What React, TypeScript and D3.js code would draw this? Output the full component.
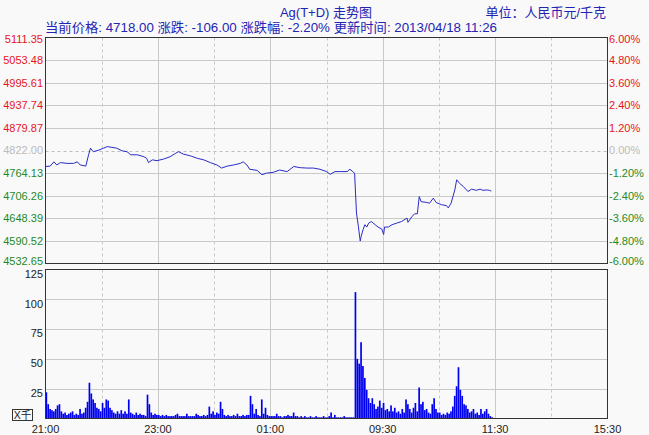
import React from 'react';
import * as d3 from 'd3';

const W = 649;
const H = 435;

// ---- data ----
const title = 'Ag(T+D) 走势图';
const unitText = '单位：人民币元/千克';
const infoText = '当前价格: 4718.00 涨跌: -106.00 涨跌幅: -2.20% 更新时间: 2013/04/18 11:26';

const preClose = 4822.0;
const priceTicks = [5111.35, 5053.48, 4995.61, 4937.74, 4879.87, 4822.0, 4764.13, 4706.26, 4648.39, 4590.52, 4532.65];
const pctTickLabels = ['6.00%', '4.80%', '3.60%', '2.40%', '1.20%', '0.00%', '-1.20%', '-2.40%', '-3.60%', '-4.80%', '-6.00%'];
const volTicks = [125, 100, 75, 50, 25];
const volUnitLabel = 'X千';

// trading minutes since 21:00 (night 21:00-02:30, day 09:00-11:30, 13:30-15:30)
const totalMinutes = 600;
const timeLabels = ['21:00', '23:00', '01:00', '09:30', '11:30', '15:30'];
const timeLabelMinutes = [0, 120, 240, 360, 480, 600];
const hourGridMinutes = [60, 120, 180, 240, 300, 360, 420, 480, 540];

const priceMinutes = [0, 5, 9, 12, 16, 23, 30, 34, 37, 43, 46, 48, 51, 57, 62, 66, 71, 76, 82, 87, 91, 98, 105, 108, 110, 114, 119, 126, 133, 139, 142, 147, 155, 162, 169, 176, 183, 188, 194, 201, 208, 211, 215, 218, 226, 231, 236, 243, 250, 258, 265, 272, 279, 286, 293, 300, 304, 309, 314, 322, 325, 328, 330, 332, 334, 336, 337, 339, 341, 343, 345, 348, 352, 355, 359, 361, 362, 366, 370, 375, 380, 386, 387, 391, 394, 397, 399, 401, 407, 410, 414, 417, 423, 428, 430, 433, 437, 439, 442, 446, 451, 455, 460, 464, 467, 471, 474, 476];
const priceValues = [4781, 4782, 4793, 4785, 4791, 4789, 4789, 4793, 4785, 4782, 4811, 4828, 4819, 4823, 4828, 4832, 4830, 4828, 4821, 4819, 4811, 4811, 4806, 4802, 4791, 4798, 4796, 4800, 4806, 4815, 4819, 4813, 4808, 4802, 4798, 4791, 4785, 4777, 4782, 4785, 4789, 4793, 4785, 4774, 4771, 4760, 4764, 4766, 4772, 4768, 4781, 4778, 4777, 4777, 4774, 4768, 4761, 4768, 4768, 4768, 4774, 4768, 4764, 4662, 4628, 4590, 4602, 4619, 4632, 4626, 4636, 4640, 4632, 4626, 4621, 4607, 4626, 4626, 4632, 4636, 4640, 4649, 4638, 4652, 4660, 4660, 4704, 4691, 4689, 4687, 4700, 4689, 4683, 4681, 4675, 4687, 4721, 4747, 4738, 4730, 4717, 4723, 4720, 4723, 4720, 4721, 4720, 4718];

// volume (thousands), 2-minute buckets from 21:00
const volumeBucketMinutes = 2;
const volumeValues = [
  22, 12, 8, 7, 6, 8, 11, 12, 6, 4,
  5, 3, 4, 5, 6, 3, 4, 3, 8, 4,
  5, 9, 14, 30, 21, 16, 13, 9, 8, 6,
  13, 9, 16, 15, 9, 7, 5, 4, 6, 4,
  7, 4, 6, 4, 16, 5, 4, 3, 5, 3,
  4, 3, 3, 2, 20, 12, 5, 3, 4, 3,
  3, 2, 3, 2, 3, 2, 2, 2, 2, 3,
  4, 2, 2, 2, 2, 4, 2, 2, 2, 2,
  4, 3, 2, 2, 3, 2, 3, 10, 4, 6,
  3, 5, 4, 14, 8, 3, 2, 3, 2, 2,
  3, 2, 4, 2, 2, 3, 2, 3, 3, 19,
  12, 4, 8, 3, 2, 16, 4, 9, 3, 2,
  2, 2, 2, 4, 2, 2, 1, 2, 2, 3,
  2, 2, 5, 2, 2, 1, 2, 1, 2, 1,
  1, 2, 1, 1, 2, 1, 1, 1, 2, 1,
  1, 2, 5, 1, 3, 1, 1, 1, 1, 2,
  1, 1, 1, 1, 1,
  106, 50, 46, 64, 44, 34, 24, 17, 13, 17,
  12, 8, 10, 15, 9, 13, 7, 8, 6, 11,
  6, 9, 5, 6, 4, 8, 5, 16, 12, 8,
  5, 9, 13, 6, 26, 12, 14, 7, 8, 5,
  4, 12, 17, 8, 5, 5, 3, 4, 3, 5,
  4, 6, 10, 19, 27, 43, 24, 19, 12, 11,
  8, 5, 6, 8, 4, 5, 3, 8, 4, 6,
  8, 4, 2, 1,
];

// ---- layout ----
const left = 45.5;
const right = 607.5;
const priceTop = 37.5;
const priceBottom = 263.5;
const volTop = 269.5;
const volBottom = 418.5;

const FONT = "'Liberation Sans', Arial, 'Noto Sans CJK SC', sans-serif";
const RED = '#e8141c';
const GREEN = '#1f8a1f';
const ZERO = '#bbbbbb';
const BLUE_TEXT = '#2424b4';
const GRID = '#c9c9c9';

export default function App() {
  const x = d3.scaleLinear().domain([0, totalMinutes]).range([left, right]);
  const yP = d3.scaleLinear().domain([priceTicks[priceTicks.length - 1], priceTicks[0]]).range([priceBottom, priceTop]);
  const yV = d3.scaleLinear().domain([0, 125]).range([volBottom, volTop]);

  const pts = priceMinutes.map((m, i) => [m, priceValues[i]] as [number, number]);
  const line = d3.line<[number, number]>().x((d) => x(d[0])).y((d) => yP(d[1]))(pts) || '';

  const bw = x(volumeBucketMinutes) - x(0);

  const colorFor = (i: number) => (i < 5 ? RED : i === 5 ? ZERO : GREEN);
  // labels sit slightly inside the panel at the top/bottom edges
  const labelShift = (i: number) => (i === 0 ? 1.5 : i === priceTicks.length - 1 ? -2.5 : 0);

  return (
    <svg width={W} height={H} style={{ position: 'absolute', left: 0, top: 0, background: '#f9f9f9' }} fontFamily={FONT}>
      <rect x={0} y={0} width={W} height={H} fill="#f9f9f9" />
      {/* header */}
      <text x={326} y={17} textAnchor="middle" fontSize={13} fill={BLUE_TEXT}>{title}</text>
      <text x={606} y={17} textAnchor="end" fontSize={13} fill={BLUE_TEXT}>{unitText}</text>
      <text x={45} y={32} fontSize={13} fill={BLUE_TEXT} textLength={452} lengthAdjust="spacingAndGlyphs">{infoText}</text>

      {/* price panel grid */}
      {priceTicks.map((p, i) =>
        i > 0 && i < priceTicks.length - 1 ? (
          <line key={'hp' + i} x1={left} x2={right} y1={Math.round(yP(p)) + 0.5} y2={Math.round(yP(p)) + 0.5}
            stroke={i === 5 ? '#bdbdbd' : GRID} strokeDasharray={i === 5 ? '3,3' : undefined} />
        ) : null
      )}
      {hourGridMinutes.map((m) => (
        <line key={'vp' + m} x1={Math.round(x(m)) + 0.5} x2={Math.round(x(m)) + 0.5} y1={priceTop} y2={priceBottom}
          stroke={GRID} strokeDasharray={m % 120 === 0 ? undefined : '3,3'} />
      ))}
      <path d={line} fill="none" stroke="#2b2bc8" strokeWidth={1} />
      <rect x={left} y={priceTop} width={right - left} height={priceBottom - priceTop} fill="none" stroke="#333" />

      {priceTicks.map((p, i) => (
        <text key={'lp' + i} x={43} y={yP(p) + labelShift(i)} dy="0.35em" textAnchor="end" fontSize={11} fill={colorFor(i)}>
          {p.toFixed(2)}
        </text>
      ))}
      {pctTickLabels.map((t, i) => (
        <text key={'rp' + i} x={609} y={yP(priceTicks[i]) + labelShift(i)} dy="0.35em" fontSize={11} fill={colorFor(i)}>
          {t}
        </text>
      ))}

      {/* volume panel grid */}
      {volTicks.slice(1).map((v) => (
        <line key={'hv' + v} x1={left} x2={right} y1={Math.round(yV(v)) + 0.5} y2={Math.round(yV(v)) + 0.5} stroke={GRID} />
      ))}
      {hourGridMinutes.map((m) => (
        <line key={'vv' + m} x1={Math.round(x(m)) + 0.5} x2={Math.round(x(m)) + 0.5} y1={volTop} y2={volBottom}
          stroke={GRID} strokeDasharray={m % 120 === 0 ? undefined : '3,3'} />
      ))}
      {volumeValues.map((v, i) => (
        <rect key={'b' + i} x={x(i * volumeBucketMinutes)} y={yV(v)} width={bw * 0.9} height={volBottom - yV(v)} fill="#0000f0" />
      ))}
      <rect x={left} y={volTop} width={right - left} height={volBottom - volTop} fill="none" stroke="#333" />
      {volTicks.map((v) => (
        <text key={'lv' + v} x={43} y={yV(v) + 4.5} dy="0.35em" textAnchor="end" fontSize={11} fill="#222">
          {v}
        </text>
      ))}
      <rect x={12.5} y={409.5} width={20} height={11} fill="none" stroke="#333" />
      <text x={22.5} y={415} dy="0.35em" textAnchor="middle" fontSize={10.5} fill="#222">{volUnitLabel}</text>

      {timeLabels.map((t, i) => (
        <text key={'t' + i} x={x(timeLabelMinutes[i])} y={433} textAnchor="middle" fontSize={11} fill="#222">
          {t}
        </text>
      ))}
    </svg>
  );
}
